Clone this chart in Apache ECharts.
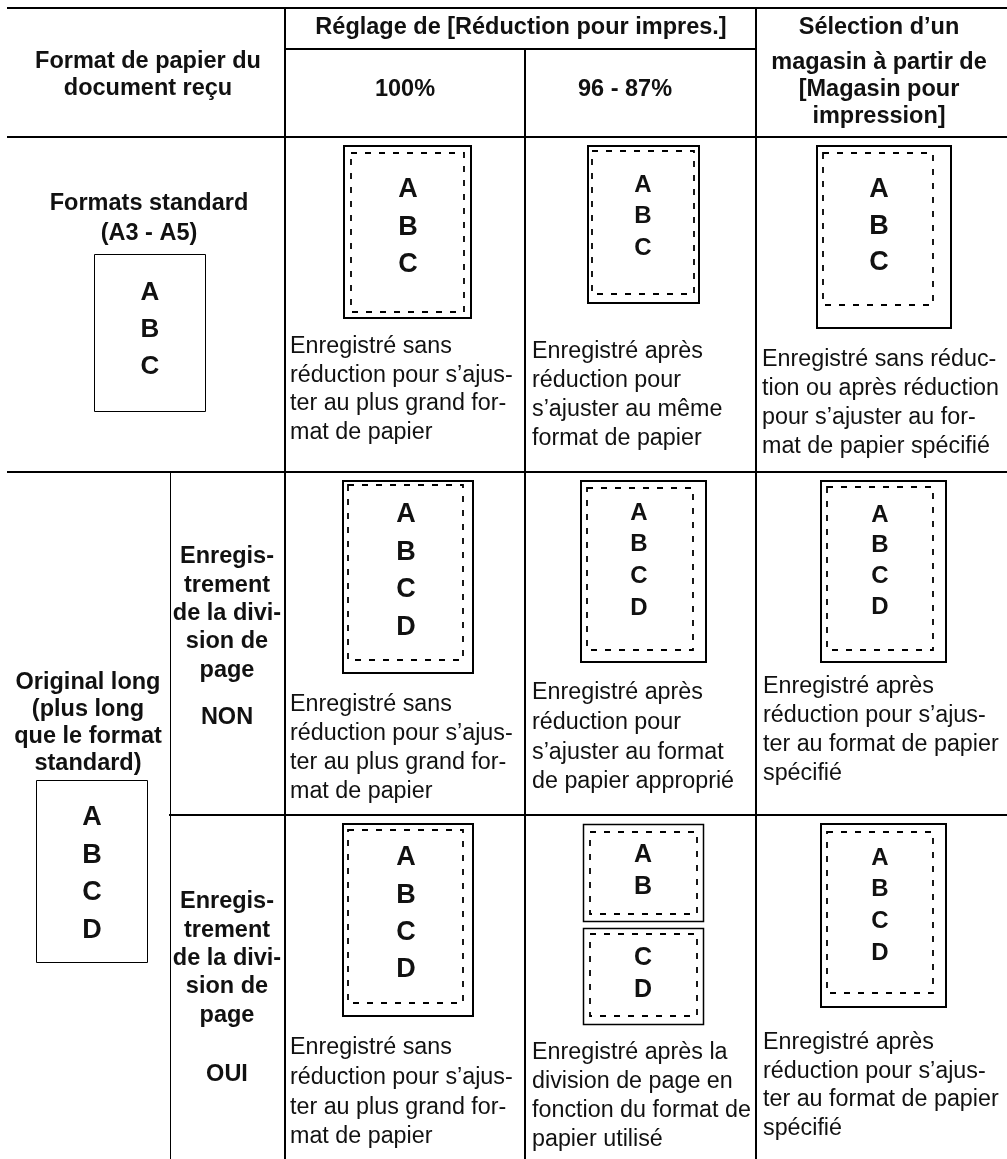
<!DOCTYPE html>
<html>
<head>
<meta charset="utf-8">
<script src="https://cdn.jsdelivr.net/npm/echarts@6/dist/echarts.min.js"></script>
<style>
html,body{margin:0;padding:0;background:#fff;}
#main{width:1007px;height:1159px;}
</style>
</head>
<body>
<div id="main"></div>
<script>
// ---------- DATA (text content) ----------
const headerPaper = ['Format de papier du', 'document reçu'];
const headerReduction = ['Réglage de [Réduction pour impres.]'];
const headerRatios = ['100%', '96 - 87%'];
const headerTray = ['Sélection d\u2019un', 'magasin à partir de', '[Magasin pour', 'impression]'];
const rowStandard = ['Formats standard', '(A3 - A5)'];
const rowLong = ['Original long', '(plus long', 'que le format', 'standard)'];
const divisionLabel = ['Enregis-', 'trement', 'de la divi-', 'sion de', 'page'];
const divisionValues = ['NON', 'OUI'];
const pagesStandard = ['A', 'B', 'C'];
const pagesLong = ['A', 'B', 'C', 'D'];
const descStandard = [
  ['Enregistré sans', 'réduction pour s\u2019ajus-', 'ter au plus grand for-', 'mat de papier'],
  ['Enregistré après', 'réduction pour', 's\u2019ajuster au même', 'format de papier'],
  ['Enregistré sans réduc-', 'tion ou après réduction', 'pour s\u2019ajuster au for-', 'mat de papier spécifié']
];
const descLongNon = [
  ['Enregistré sans', 'réduction pour s\u2019ajus-', 'ter au plus grand for-', 'mat de papier'],
  ['Enregistré après', 'réduction pour', 's\u2019ajuster au format', 'de papier approprié'],
  ['Enregistré après', 'réduction pour s\u2019ajus-', 'ter au format de papier', 'spécifié']
];
const descLongOui = [
  ['Enregistré sans', 'réduction pour s\u2019ajus-', 'ter au plus grand for-', 'mat de papier'],
  ['Enregistré après la', 'division de page en', 'fonction du format de', 'papier utilisé'],
  ['Enregistré après', 'réduction pour s\u2019ajus-', 'ter au format de papier', 'spécifié']
];

// ---------- LAYOUT (positions / sizes / styles) ----------
const FAMILY = '"Liberation Sans", Arial, Helvetica, sans-serif';
const BOLD = 'bold 23.5px ' + FAMILY;
const BODY = '23.3px ' + FAMILY;
const INK = '#111';

const ruleLayout = [
  [8, 8, 1007, 8, 2],
  [285, 49, 756, 49, 2],
  [8, 137, 1007, 137, 2],
  [8, 472, 1007, 472, 2],
  [170, 815, 1007, 815, 2],
  [285, 8, 285, 1159, 2],
  [525, 49, 525, 1159, 2],
  [756, 8, 756, 1159, 2],
  [170.5, 472, 170.5, 1159, 1]
];

// description block layout: [x, firstY, step]
const descStandardPos = [[290, 347, 28.5], [532, 352, 28.7], [762, 360, 29]];
const descNonPos = [[290, 705, 29], [532, 693, 29.6], [763, 687, 28.7]];
const descOuiPos = [[290, 1048, 29.6], [532, 1053, 29], [763, 1043, 28.5]];

// page box layout: outer, inner(dashed or null), outer width, letter x, first y, step, size
const boxStandardLeft = {outer: [94.5, 254.5, 205.5, 411.5], inner: null, ow: 1, lx: 150, ly: 293, step: 37, size: 26};
const boxLongLeft = {outer: [36.5, 780.5, 147.5, 962.5], inner: null, ow: 1, lx: 92, ly: 818, step: 37.5, size: 27};
const boxStandard = [
  {outer: [344, 146, 471, 318], inner: [351, 153, 464, 312], ow: 2, lx: 408, ly: 190, step: 37.5, size: 27},
  {outer: [588, 146, 699, 303], inner: [592, 151, 694, 294], ow: 2, lx: 643, ly: 185, step: 31.5, size: 24},
  {outer: [817, 146, 951, 328], inner: [823, 153, 933, 305], ow: 2, lx: 879, ly: 190, step: 36.5, size: 27}
];
const boxNon = [
  {outer: [343, 481, 473, 673], inner: [348, 485, 463, 660], ow: 2, lx: 406, ly: 515, step: 37.5, size: 27},
  {outer: [581, 481, 706, 662], inner: [587, 488, 693, 650], ow: 2, lx: 639, ly: 513, step: 31.7, size: 24},
  {outer: [821, 481, 946, 662], inner: [827, 487, 933, 650], ow: 2, lx: 880, ly: 515, step: 30.7, size: 24}
];
const boxOui = [
  {outer: [343, 824, 473, 1016], inner: [348, 830, 463, 1003], ow: 2, lx: 406, ly: 858, step: 37.3, size: 27},
  {outer: [583.5, 824.5, 703.5, 921.5], inner: [590, 832, 697, 914], ow: 1.5, lx: 643, ly: 855, step: 32, size: 25},
  {outer: [583.5, 928.5, 703.5, 1024.5], inner: [590, 934, 697, 1016], ow: 1.5, lx: 643, ly: 958, step: 32, size: 25},
  {outer: [821, 824, 946, 1007], inner: [827, 832, 933, 993], ow: 2, lx: 880, ly: 858, step: 31.7, size: 24}
];

// ---------- build element list ----------
const items = [];
ruleLayout.forEach(r => items.push({t: 'line', x1: r[0], y1: r[1], x2: r[2], y2: r[3], w: r[4]}));

function addTextLines(lines, x, y0, step, font, align) {
  lines.forEach((s, i) => items.push({t: 'text', s: s, x: x, y: y0 + i * step, font: font, align: align}));
}
function addBox(b, letters) {
  items.push({t: 'rect', r: b.outer, w: b.ow, dash: null});
  if (b.inner) items.push({t: 'rect', r: b.inner, w: 1.8, dash: [6, 8]});
  addTextLines(letters, b.lx, b.ly, b.step, 'bold ' + b.size + 'px ' + FAMILY, 'center');
}

// headers
addTextLines(headerPaper, 148, 62, 27, BOLD, 'center');
addTextLines(headerReduction, 521, 28, 0, BOLD, 'center');
addTextLines([headerRatios[0]], 405, 90, 0, BOLD, 'center');
addTextLines([headerRatios[1]], 625, 90, 0, BOLD, 'center');
addTextLines([headerTray[0]], 879, 28, 0, BOLD, 'center');
addTextLines(headerTray.slice(1), 879, 63, 27, BOLD, 'center');

// row labels
addTextLines(rowStandard, 149, 204, 30, BOLD, 'center');
addBox(boxStandardLeft, pagesStandard);
addTextLines(rowLong, 88, 683, 26.7, BOLD, 'center');
addBox(boxLongLeft, pagesLong);
addTextLines(divisionLabel, 227, 557, 28.3, BOLD, 'center');
addTextLines([divisionValues[0]], 227, 718, 0, BOLD, 'center');
addTextLines(divisionLabel, 227, 902, 28.3, BOLD, 'center');
addTextLines([divisionValues[1]], 227, 1075, 0, BOLD, 'center');

// cells
boxStandard.forEach(b => addBox(b, pagesStandard));
boxNon.forEach(b => addBox(b, pagesLong));
addBox(boxOui[0], pagesLong);
addBox(boxOui[1], pagesLong.slice(0, 2));
addBox(boxOui[2], pagesLong.slice(2));
addBox(boxOui[3], pagesLong);

descStandard.forEach((d, i) => addTextLines(d, descStandardPos[i][0], descStandardPos[i][1], descStandardPos[i][2], BODY, 'left'));
descLongNon.forEach((d, i) => addTextLines(d, descNonPos[i][0], descNonPos[i][1], descNonPos[i][2], BODY, 'left'));
descLongOui.forEach((d, i) => addTextLines(d, descOuiPos[i][0], descOuiPos[i][1], descOuiPos[i][2], BODY, 'left'));

// ---------- chart ----------
const chart = echarts.init(document.getElementById('main'), null, {renderer: 'canvas'});
chart.setOption({
  animation: false,
  backgroundColor: '#fff',
  grid: {left: 0, right: 0, top: 0, bottom: 0},
  xAxis: {type: 'value', min: 0, max: 1007, show: false},
  yAxis: {type: 'value', min: 0, max: 1159, inverse: true, show: false},
  series: [{
    type: 'custom',
    coordinateSystem: 'cartesian2d',
    clip: false,
    silent: true,
    data: items.map((_, i) => [i % 1000, 0]),
    renderItem: function (params, api) {
      const el = items[params.dataIndex];
      if (el.t === 'line') {
        const a = api.coord([el.x1, el.y1]), b = api.coord([el.x2, el.y2]);
        return {type: 'line', shape: {x1: a[0], y1: a[1], x2: b[0], y2: b[1]},
          style: {stroke: '#000', lineWidth: el.w, lineCap: 'square'}};
      }
      if (el.t === 'rect') {
        const a = api.coord([el.r[0], el.r[1]]), b = api.coord([el.r[2], el.r[3]]);
        return {type: 'rect', shape: {x: a[0], y: a[1], width: b[0] - a[0], height: b[1] - a[1]},
          style: {fill: null, stroke: '#000', lineWidth: el.w, lineDash: el.dash || null}};
      }
      const p = api.coord([el.x, el.y]);
      return {type: 'text', x: p[0], y: p[1],
        style: {text: el.s, fill: INK, font: el.font, align: el.align, verticalAlign: 'middle',
          textAlign: el.align, textVerticalAlign: 'middle'}};
    }
  }]
});
</script>
</body>
</html>
